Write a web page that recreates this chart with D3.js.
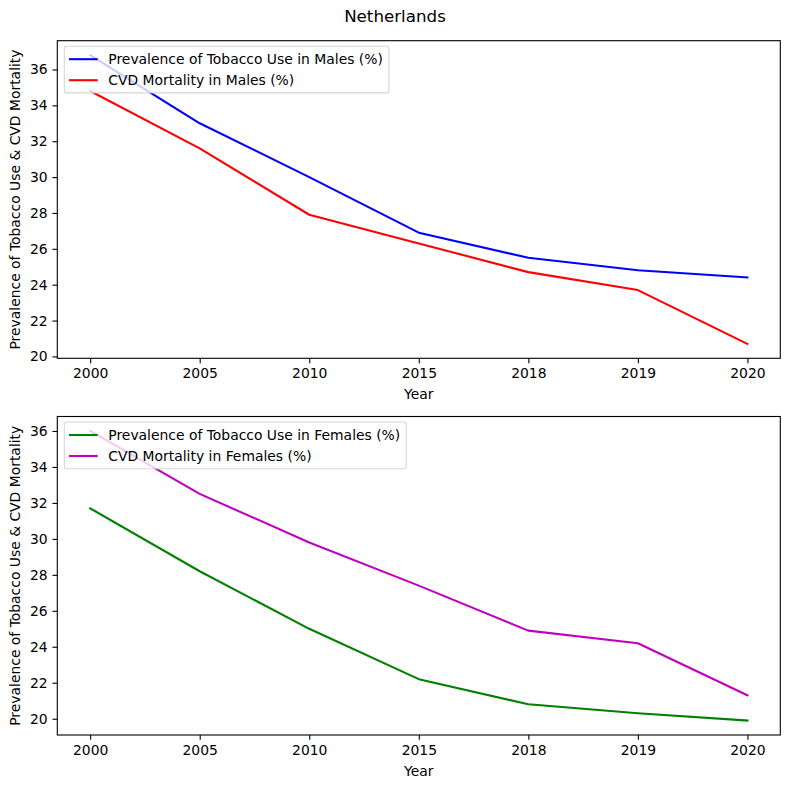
<!DOCTYPE html>
<html>
<head>
<meta charset="utf-8">
<script src="https://cdn.jsdelivr.net/npm/d3@7"></script>
<style>
  html, body { margin: 0; padding: 0; background: #fff; }
  svg text { font-family: "DejaVu Sans", sans-serif; fill: #000; }
</style>
</head>
<body>
<svg id="chart" width="790" height="788"></svg>
<script>
// ---- data ----
const years = ["2000", "2005", "2010", "2015", "2018", "2019", "2020"];
const tobaccoMales = [36.8, 33.0, 30.0, 26.9, 25.5, 24.8, 24.4];
const cvdMales = [34.8, 31.6, 27.9, 26.3, 24.7, 23.7, 20.7];
const tobaccoFemales = [31.7, 28.2, 25.0, 22.2, 20.8, 20.3, 19.9];
const cvdFemales = [36.0, 32.5, 29.8, 27.4, 24.9, 24.2, 21.3];
const yTicks = [20, 22, 24, 26, 28, 30, 32, 34, 36];
const title = "Netherlands";
const xLabel = "Year";
const yLabel = "Prevalence of Tobacco Use & CVD Mortality";

const panels = [
  { top: 40.7, bottom: 358.3,
    series: [
      { name: "Prevalence of Tobacco Use in Males (%)", values: tobaccoMales, color: "#0000ff" },
      { name: "CVD Mortality in Males (%)", values: cvdMales, color: "#ff0000" }
    ] },
  { top: 416.5, bottom: 735,
    series: [
      { name: "Prevalence of Tobacco Use in Females (%)", values: tobaccoFemales, color: "#008000" },
      { name: "CVD Mortality in Females (%)", values: cvdFemales, color: "#bf00bf" }
    ] }
];

const svg = d3.select("#chart");
const left = 57.3, right = 780.3;
const fs = 13.9;

svg.append("text")
  .attr("x", 395).attr("y", 22)
  .attr("text-anchor", "middle")
  .style("font-size", "16.7px")
  .text(title);

panels.forEach(p => {
  const g = svg.append("g");
  const x = d3.scalePoint().domain(years).range([left, right]).padding(0.3);
  const all = p.series.flatMap(s => s.values);
  const mn = d3.min(all), mx = d3.max(all), pad = (mx - mn) * 0.05;
  const y = d3.scaleLinear().domain([mn - pad, mx + pad]).range([p.bottom, p.top]);

  // lines
  const line = d3.line().x((d, i) => x(years[i])).y(d => y(d));
  p.series.forEach(s => {
    g.append("path")
      .datum(s.values)
      .attr("d", line)
      .attr("fill", "none")
      .attr("stroke", s.color)
      .attr("stroke-width", 2.08)
      .attr("stroke-linejoin", "round")
      .attr("stroke-linecap", "square");
  });

  // axes
  const xAxis = d3.axisBottom(x).tickSize(4.86).tickPadding(4.86);
  const gx = g.append("g").attr("transform", `translate(0,${p.bottom})`).call(xAxis);
  const yAxis = d3.axisLeft(y).tickValues(yTicks).tickFormat(d3.format("d")).tickSize(4.86).tickPadding(4.86);
  const gy = g.append("g").attr("transform", `translate(${left},0)`).call(yAxis);
  [gx, gy].forEach(a => {
    a.select(".domain").remove();
    a.selectAll(".tick line").attr("stroke", "#000").attr("stroke-width", 1.1);
    a.selectAll(".tick text").style("font-size", fs + "px").style("font-family", "DejaVu Sans, sans-serif").attr("fill", "#000");
  });

  // frame
  g.append("rect")
    .attr("x", left).attr("y", p.top)
    .attr("width", right - left).attr("height", p.bottom - p.top)
    .attr("fill", "none").attr("stroke", "#000").attr("stroke-width", 1.1);

  // labels
  g.append("text")
    .attr("x", x("2015")).attr("y", p.bottom + 41)
    .attr("text-anchor", "middle")
    .style("font-size", fs + "px")
    .text(xLabel);
  g.append("text")
    .attr("transform", `translate(20,${(p.top + p.bottom) / 2}) rotate(-90)`)
    .attr("text-anchor", "middle")
    .style("font-size", fs + "px")
    .text(yLabel);

  // legend
  const lx = left + 7, ly = p.top + 5.5;
  const lg = g.append("g");
  const box = lg.append("rect")
    .attr("x", lx).attr("y", ly).attr("rx", 2.5).attr("ry", 2.5)
    .attr("height", 46.7)
    .attr("fill", "#fff").attr("fill-opacity", 0.8)
    .attr("stroke", "#cccccc").attr("stroke-opacity", 0.8).attr("stroke-width", 1.1);
  let maxW = 0;
  p.series.forEach((s, i) => {
    const cy = ly + 13 + i * 21;
    lg.append("line")
      .attr("x1", lx + 4.7).attr("x2", lx + 33.4)
      .attr("y1", cy).attr("y2", cy)
      .attr("stroke", s.color).attr("stroke-width", 2.08);
    const t = lg.append("text")
      .attr("x", lx + 44).attr("y", cy)
      .attr("dy", "0.36em")
      .style("font-size", fs + "px")
      .text(s.name);
    maxW = Math.max(maxW, t.node().getComputedTextLength());
  });
  box.attr("width", 44 + maxW + 6);
});
</script>
</body>
</html>
